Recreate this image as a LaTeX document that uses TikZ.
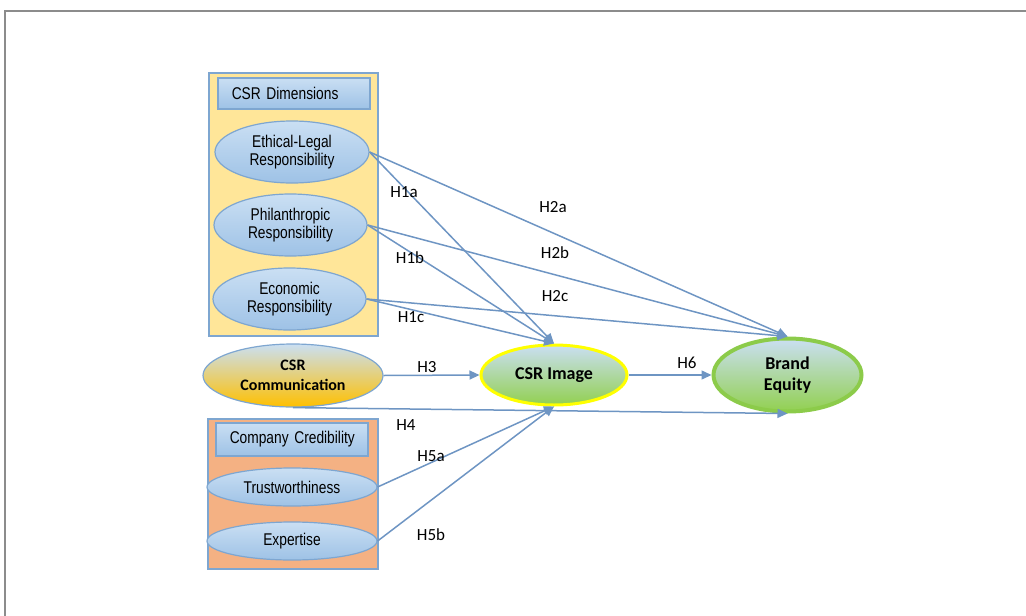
\documentclass[tikz,border=0pt]{standalone}
\usepackage{fontspec}
\setmainfont{Carlito}
\newfontfamily\narrowfont[FakeStretch=0.81]{Liberation Sans}
\usetikzlibrary{shapes.geometric,arrows.meta}
\definecolor{framegray}{HTML}{8C8C8C}
\definecolor{boxblue}{HTML}{7EA6D0}
\definecolor{dimyellow}{HTML}{FFE699}
\definecolor{credorange}{HTML}{F4B183}
\definecolor{elltop}{HTML}{CADFF3}
\definecolor{ellbot}{HTML}{9EC2E6}
\definecolor{arrowblue}{HTML}{6E95C3}
\definecolor{greenbot}{HTML}{92D050}
\definecolor{orangebot}{HTML}{FFC000}
\definecolor{yellowline}{HTML}{FFFF00}
\definecolor{greenline}{HTML}{8CCB4A}
\begin{document}
\begin{tikzpicture}[x=1pt,y=-1pt,
  groupbox/.style={draw=boxblue, line width=1.5pt, inner sep=0pt, anchor=north west},
  titlebox/.style={draw=boxblue, line width=1.5pt, top color=elltop, bottom color=ellbot,
     anchor=north west, text width=138pt, align=left, inner xsep=7pt, inner ysep=0pt,
     font=\narrowfont\fontsize{17}{18.5}\selectfont},
  dimell/.style={ellipse, draw=boxblue, line width=1.2pt, top color=elltop, bottom color=ellbot,
     inner sep=0pt, align=center, font=\narrowfont\fontsize{17}{18.5}\selectfont},
  bigell/.style={ellipse, inner sep=0pt, align=center, font=\bfseries\fontsize{18}{21}\selectfont},
  hyp/.style={font=\fontsize{17}{20}\selectfont, inner sep=0pt},
  link/.style={draw=arrowblue, line width=1.5pt, -{Triangle[length=10pt,width=9pt]}}
]
\useasboundingbox (0,0) rectangle (1026,616);
% frame
\draw[framegray, line width=1.5pt] (5,616) -- (5,11) -- (1027,11);

% group boxes
\node[groupbox, fill=dimyellow, minimum width=169pt, minimum height=263pt] (dimbox) at (208,72) {};
\node[groupbox, fill=credorange, minimum width=170pt, minimum height=150pt] (credbox) at (207,418) {};

\node[titlebox, minimum height=31pt] (dimtitle) at (217,77) {\hspace*{7pt}CSR Dimensions};
\node[titlebox, minimum height=33pt] (credtitle) at (215,422) {\hspace*{7pt}Company Credibility};

% ellipses
\node[dimell, minimum width=154pt, minimum height=62pt] (eth) at (292,152) {Ethical-Legal\\Responsibility};
\node[dimell, minimum width=153pt, minimum height=62pt] (phil) at (290.5,225) {Philanthropic\\Responsibility};
\node[dimell, minimum width=153pt, minimum height=62pt] (eco) at (289.5,299) {Economic\\Responsibility};
\node[dimell, minimum width=170pt, minimum height=38pt] (trust) at (292,487) {Trustworthiness};
\node[dimell, minimum width=170pt, minimum height=38pt] (exp) at (292,541) {Expertise};

\node[bigell, draw=boxblue, line width=1.2pt, top color=elltop, bottom color=orangebot,
      minimum width=180pt, minimum height=63pt, font=\bfseries\fontsize{16}{20}\selectfont] (comm) at (293,375.5) {CSR\\Communication};
\node[bigell, draw=yellowline, line width=3pt, top color=elltop, bottom color=greenbot,
      minimum width=146pt, minimum height=60pt] (img) at (554,375) {CSR Image};
\node[bigell, draw=greenline, line width=4pt, top color=elltop, bottom color=greenbot,
      minimum width=148pt, minimum height=73pt] (be) at (787.5,375) {Brand\\Equity};

% connectors
\draw[link] (eth.east) -- (img.north);
\draw[link] (eth.east) -- (be.north);
\draw[link] (phil.east) -- (img.north);
\draw[link] (phil.east) -- (be.north);
\draw[link] (eco.east) -- (img.north);
\draw[link] (eco.east) -- (be.north);
\draw[link] (comm.east) -- (img.west);
\draw[link] (img.east) -- (be.west);
\draw[link] (comm.south) -- (be.south);
\draw[link] (trust.east) -- (img.south);
\draw[link] (exp.east) -- (img.south);

% labels
\node[hyp] (h1a) at (404,192) {H1a};
\node[hyp] (h2a) at (553,207) {H2a};
\node[hyp] (h1b) at (410,258) {H1b};
\node[hyp] (h2b) at (555,253) {H2b};
\node[hyp] (h1c) at (411,317) {H1c};
\node[hyp] (h2c) at (555,296) {H2c};
\node[hyp] (h3) at (427,367) {H3};
\node[hyp] (h6) at (687,363) {H6};
\node[hyp] (h4) at (406,425) {H4};
\node[hyp] (h5a) at (431,456) {H5a};
\node[hyp] (h5b) at (431,535) {H5b};
\end{tikzpicture}
\end{document}
